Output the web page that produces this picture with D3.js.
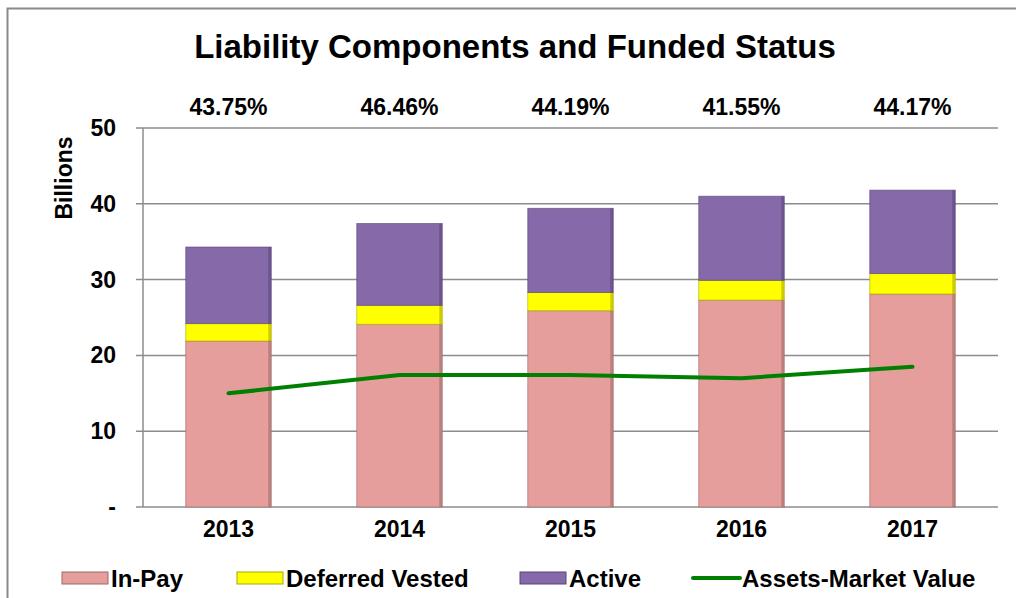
<!DOCTYPE html>
<html>
<head>
<meta charset="utf-8">
<script src="https://cdn.jsdelivr.net/npm/d3@7/dist/d3.min.js"></script>
<style>
  body { margin: 0; background: #fff; }
  text { font-family: 'Liberation Sans', Arial, sans-serif; font-weight: bold; fill: #000; }
</style>
</head>
<body>
<script>
// chart data
const years = ['2013', '2014', '2015', '2016', '2017']
const inPay = [21.9, 24.1, 25.9, 27.3, 28.1]
const deferredVested = [2.3, 2.5, 2.4, 2.6, 2.7]
const active = [10.1, 10.8, 11.1, 11.1, 11.0]
const assetsMarketValue = [15.0, 17.4, 17.4, 17.0, 18.5]
const fundedPct = ['43.75%', '46.46%', '44.19%', '41.55%', '44.17%']
const yTicks = [0, 10, 20, 30, 40, 50]

const seriesNames = ['In-Pay', 'Deferred Vested', 'Active']
const colors = { 'In-Pay': '#E59E9C', 'Deferred Vested': '#FFFF00', 'Active': '#8669A8' }
const edges = { 'In-Pay': '#9c6868', 'Deferred Vested': '#a8a800', 'Active': '#5a4578' }

const width = 1016
const height = 598
const margin = { left: 143, right: 18, top: 128, bottom: 91 }

const svg = d3.select('body')
  .append('svg')
  .attr('width', width)
  .attr('height', height)

// outer frame
svg.append('rect')
  .attr('x', 7.5).attr('y', 8.5)
  .attr('width', 1040).attr('height', 640)
  .attr('fill', 'none')
  .attr('stroke', '#8a8a8a')
  .attr('stroke-width', 2)

const x = d3.scaleBand()
  .domain(years)
  .range([margin.left, width - margin.right])
  .paddingInner(0.5)
  .paddingOuter(0.25)

const y = d3.scaleLinear()
  .domain([0, 50])
  .range([height - margin.bottom, margin.top])

// gridlines
svg.append('g')
  .selectAll('line')
  .data(yTicks)
  .enter()
  .append('line')
  .attr('x1', margin.left - 7)
  .attr('x2', width - margin.right)
  .attr('y1', d => y(d))
  .attr('y2', d => y(d))
  .attr('stroke', '#8c8c8c')
  .attr('stroke-width', 1.5)

// y axis line
svg.append('line')
  .attr('x1', margin.left).attr('x2', margin.left)
  .attr('y1', y(50)).attr('y2', y(0))
  .attr('stroke', '#8c8c8c')
  .attr('stroke-width', 1.5)

// y tick labels
svg.append('g')
  .selectAll('text')
  .data(yTicks)
  .enter()
  .append('text')
  .attr('x', 116)
  .attr('y', d => y(d))
  .attr('dy', '0.35em')
  .attr('text-anchor', 'end')
  .style('font-size', '23px')
  .text(d => d === 0 ? '-' : d)

// y axis title
svg.append('text')
  .attr('transform', 'translate(72,178) rotate(-90)')
  .attr('text-anchor', 'middle')
  .style('font-size', '23px')
  .text('Billions')

// stacked bars
const table = years.map((yr, i) => ({
  year: yr,
  'In-Pay': inPay[i],
  'Deferred Vested': deferredVested[i],
  'Active': active[i]
}))
const stacked = d3.stack().keys(seriesNames)(table)

const layer = svg.selectAll('.layer')
  .data(stacked)
  .enter()
  .append('g')
  .attr('class', 'layer')

layer.selectAll('rect.bar')
  .data(d => d.map(p => Object.assign(p, { key: d.key })))
  .enter()
  .append('rect')
  .attr('class', 'bar')
  .attr('x', d => x(d.data.year))
  .attr('y', d => y(d[1]))
  .attr('width', x.bandwidth())
  .attr('height', d => y(d[0]) - y(d[1]))
  .attr('fill', d => colors[d.key])
  .attr('stroke', d => edges[d.key])
  .attr('stroke-width', 1)
  .attr('stroke-opacity', 0.6)

// right-side shading on each segment
layer.selectAll('rect.shade')
  .data(d => d)
  .enter()
  .append('rect')
  .attr('class', 'shade')
  .attr('x', d => x(d.data.year) + x.bandwidth() - 3)
  .attr('y', d => y(d[1]))
  .attr('width', 3)
  .attr('height', d => y(d[0]) - y(d[1]))
  .attr('fill', d => edges[d.key])
  .attr('opacity', 0.55)

// assets line
const line = d3.line()
  .x((d, i) => x(years[i]) + x.bandwidth() / 2)
  .y(d => y(d))

svg.append('path')
  .datum(assetsMarketValue)
  .attr('d', line)
  .attr('fill', 'none')
  .attr('stroke', '#008000')
  .attr('stroke-width', 4)
  .attr('stroke-linecap', 'round')
  .attr('stroke-linejoin', 'round')

// x labels
svg.append('g')
  .selectAll('text')
  .data(years)
  .enter()
  .append('text')
  .attr('x', d => x(d) + x.bandwidth() / 2)
  .attr('y', 537)
  .attr('text-anchor', 'middle')
  .style('font-size', '23px')
  .text(d => d)

// funded status labels
svg.append('g')
  .selectAll('text')
  .data(fundedPct)
  .enter()
  .append('text')
  .attr('x', (d, i) => x(years[i]) + x.bandwidth() / 2)
  .attr('y', 115)
  .attr('text-anchor', 'middle')
  .style('font-size', '23px')
  .text(d => d)

// title
svg.append('text')
  .attr('x', 515)
  .attr('y', 58)
  .attr('text-anchor', 'middle')
  .style('font-size', '33px')
  .text('Liability Components and Funded Status')

// legend
const legendItems = [
  { name: 'In-Pay', x: 62, type: 'rect' },
  { name: 'Deferred Vested', x: 237, type: 'rect' },
  { name: 'Active', x: 520, type: 'rect' },
  { name: 'Assets-Market Value', x: 693, type: 'line' }
]
const lg = svg.append('g')
  .selectAll('g')
  .data(legendItems)
  .enter()
  .append('g')
  .attr('transform', d => 'translate(' + d.x + ',578)')

lg.filter(d => d.type === 'rect')
  .append('rect')
  .attr('x', 0).attr('y', -6)
  .attr('width', 46).attr('height', 12)
  .attr('fill', d => colors[d.name])
  .attr('stroke', d => edges[d.name])
  .attr('stroke-width', 1)

lg.filter(d => d.type === 'line')
  .append('line')
  .attr('x1', 0).attr('x2', 47)
  .attr('y1', 0).attr('y2', 0)
  .attr('stroke', '#008000')
  .attr('stroke-width', 4)
  .attr('stroke-linecap', 'round')

lg.append('text')
  .attr('x', 49)
  .attr('y', 0)
  .attr('dy', '0.36em')
  .style('font-size', '24px')
  .text(d => d.name)
</script>
</body>
</html>
